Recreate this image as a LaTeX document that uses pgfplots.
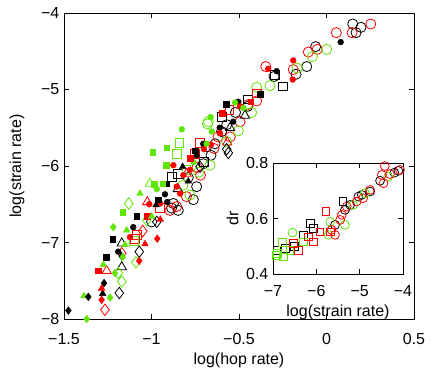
\documentclass[border=0pt]{standalone}
\usepackage{fontspec}
\setmainfont{Liberation Sans}
\usepackage{pgfplots}
\pgfplotsset{compat=1.18}

\definecolor{lgreen}{RGB}{95,230,5}

\pgfplotsset{
  oc/.style={only marks, mark=o, mark size=3.8pt, mark options={draw=#1, fill=none, line width=0.6pt}},
  fc/.style={only marks, mark=*, mark size=2.2pt, mark options={draw=#1, fill=#1, line width=0.3pt}},
  os/.style={only marks, mark=square, mark size=3.3pt, mark options={draw=#1, fill=none, line width=0.6pt}},
  fs/.style={only marks, mark=square*, mark size=2.1pt, mark options={draw=#1, fill=#1, line width=0.3pt}},
  ot/.style={only marks, mark=triangle, mark size=4pt, mark options={draw=#1, fill=none, line width=0.6pt}},
  ft/.style={only marks, mark=triangle*, mark size=2.9pt, mark options={draw=#1, fill=#1, line width=0.3pt}},
  od/.style={only marks, mark=diamond, mark size=4.3pt, mark options={draw=#1, fill=none, line width=0.6pt}},
  fd/.style={only marks, mark=diamond*, mark size=2.9pt, mark options={draw=#1, fill=#1, line width=0.3pt}},
  ml/.style={axis line style={line width=0.7pt}, tick style={line width=0.6pt, black},
    major tick length=3.5pt, tick align=inside,
    every tick label/.append style={font=\fontsize{12}{14}\selectfont},
    label style={font=\fontsize{12}{14}\selectfont}},
}

\begin{document}
\begin{tikzpicture}
\path[use as bounding box] (-48pt,-45.75pt) rectangle (279pt,239.25pt);

\begin{axis}[ml,
  name=main,
  scale only axis,
  width=262.5pt, height=229.5pt,
  at={(0pt,0pt)}, anchor=south west,
  xmin=-1.5, xmax=0.5, ymin=-8, ymax=-4,
  xtick={-1.5,-1,-0.5,0,0.5},
  xticklabels={−1.5,−1,−0.5,0,0.5},
  ytick={-8,-7,-6,-5,-4},
  yticklabels={−8,−7,−6,−5,−4},
  xticklabel style={yshift=-7.5pt},
  xlabel={log(hop rate)},
  ylabel={log(strain rate)},
  xlabel style={at={(axis description cs:0.5,-0.134)}, anchor=center},
  ylabel style={at={(axis description cs:-0.134,0.5)}, anchor=center},
  clip=false,
]
% open circles
\addplot[oc=black] coordinates {
(0.150,-4.144) (0.197,-4.187) (0.169,-4.257) (-0.062,-4.44) (-0.113,-4.70)
(-0.174,-4.80) (-0.30,-4.83) (-0.45,-5.22) (-0.57,-5.46) (-0.637,-5.71)
(-0.685,-5.75) (-0.704,-5.97) (-0.742,-6.27) (-0.761,-6.44) (-0.847,-6.58)
(-0.885,-6.55) (-0.999,-6.73) (-0.875,-6.49) (-0.60,-5.55) (-0.66,-5.86)
(-0.52,-5.30) (-0.79,-6.15)};
\addplot[oc=red] coordinates {
(0.253,-4.144) (0.146,-4.257) (0.056,-4.257) (-0.053,-4.475) (-0.104,-4.51)
(-0.347,-4.70) (-0.19,-4.74) (-0.399,-5.15) (-0.494,-5.42) (-0.643,-5.77)
(-0.894,-6.58) (-0.856,-6.53) (-0.80,-6.40) (-0.72,-6.12) (-0.55,-5.62) (-0.45,-5.20)
(-0.74,-6.02) (-0.62,-5.62)};
\addplot[oc=lgreen] coordinates {
(0.001,-4.475) (-0.081,-4.57) (-0.167,-4.72) (-0.323,-4.95) (-0.399,-4.97)
(-0.428,-5.30) (-0.675,-5.42) (-0.504,-5.54) (-0.57,-5.68) (-0.666,-5.99)
(-0.78,-6.38) (-0.68,-5.45) (-0.82,-6.25) (-0.73,-6.08)};
% open squares
\addplot[os=black] coordinates {
(-0.25,-4.96) (-0.294,-4.81) (-0.599,-5.36) (-0.885,-6.14) (-0.847,-6.10)
(-0.45,-5.13) (-0.70,-5.95)};
\addplot[os=red] coordinates {
(-0.555,-5.27) (-0.723,-5.70) (-0.751,-5.84) (-1.085,-6.90) (-1.094,-6.95)
(-0.40,-5.05) (-0.95,-6.55)};
\addplot[os=lgreen] coordinates {
(-0.841,-5.70) (-0.853,-5.84) (-0.80,-6.05) (-1.10,-6.98)};
% open triangles
\addplot[ot=black] coordinates {
(-0.551,-5.50) (-0.466,-5.34) (-1.170,-7.32) (-1.17,-7.01) (-0.85,-6.30)};
\addplot[ot=red] coordinates {
(-0.567,-5.69) (-1.024,-6.47) (-0.799,-6.10) (-1.256,-7.37)};
\addplot[ot=lgreen] coordinates {
(-1.009,-6.23)};
% open diamonds
\addplot[od=black] coordinates {
(-0.57,-5.78) (-0.561,-5.83) (-0.723,-6.01) (-1.070,-7.12) (-1.184,-7.66) (-0.970,-6.73)};
\addplot[od=red] coordinates {
(-1.266,-7.88) (-1.17,-7.14) (-1.05,-6.85)};
\addplot[od=lgreen] coordinates {
(-1.130,-6.49) (-1.170,-7.51) (-1.089,-7.26) (-1.027,-6.71) (-1.19,-7.40)};
% filled circles
\addplot[fc=black] coordinates {
(0.081,-4.38) (-0.285,-4.76) (-0.504,-5.16) (-0.533,-5.42) (-0.704,-5.71)
(-0.742,-5.86) (-0.923,-6.37) (-0.910,-6.47) (-1.104,-6.80) (-1.19,-7.12) (-0.61,-5.5)};
\addplot[fc=red] coordinates {
(-0.19,-4.62) (-0.333,-4.73) (-0.193,-4.87) (-0.494,-5.22) (-0.609,-5.57)
(-0.875,-5.99) (-0.818,-6.12) (-0.78,-6.05) (-0.856,-6.27) (-0.951,-6.49)
(-1.013,-6.50) (-1.123,-6.93) (-0.837,-6.36) (-0.70,-5.78) (-0.66,-5.72)};
\addplot[fc=lgreen] coordinates {
(-0.827,-5.52) (-0.523,-5.17) (-0.475,-5.24) (-0.662,-5.36) (-0.656,-5.55)
(-0.685,-5.71) (-0.97,-6.30) (-0.76,-5.95)};
% filled squares
\addplot[fs=black] coordinates {
(-0.574,-5.19) (-0.38,-5.06) (-0.917,-6.23) (-0.961,-6.44) (-1.085,-6.66)
(-1.222,-6.96) (-1.26,-7.19) (-0.75,-5.80)};
\addplot[fs=red] coordinates {
(-0.595,-5.31) (-0.433,-5.16) (-1.304,-7.37) (-1.024,-6.66) (-0.78,-5.90)};
\addplot[fs=lgreen] coordinates {
(-0.993,-5.82) (-0.913,-5.76) (-0.917,-5.99) (-0.936,-6.23) (-0.985,-6.24) (-1.165,-6.60)};
% filled triangles
\addplot[ft=black] coordinates {
(-0.822,-6.01) (-0.974,-6.51) (-1.279,-7.67) (-0.79,-6.2)};
\addplot[ft=red] coordinates {
(-1.285,-7.60) (-1.037,-7.02) (-0.95,-6.7)};
\addplot[ft=lgreen] coordinates {
(-1.066,-6.36) (-0.999,-6.66) (-1.386,-7.70) (-1.275,-7.29) (-1.151,-7.03) (-1.142,-6.84)};
% filled diamonds
\addplot[fd=black] coordinates {
(-1.475,-7.89) (-1.361,-7.71) (-1.271,-7.53) (-1.17,-7.18)};
\addplot[fd=red] coordinates {
(-1.285,-7.75) (-1.070,-7.24) (-0.967,-6.95)};
\addplot[fd=lgreen] coordinates {
(-1.37,-8.0) (-1.237,-7.72) (-1.209,-7.40) (-1.218,-6.80) (-1.165,-7.19)};
\end{axis}

\begin{axis}[ml,
  scale only axis,
  width=97.5pt, height=83.25pt,
  at={(156.75pt,33.75pt)}, anchor=south west,
  axis background/.style={fill=white},
  xmin=-7, xmax=-4, ymin=0.4, ymax=0.8,
  xtick={-7,-6,-5,-4},
  xticklabels={−7,−6,−5,−4},
  ytick={0.4,0.6,0.8},
  yticklabels={0.4,0.6,0.8},
  xticklabel style={yshift=-5pt},
  xlabel={log(strain rate)},
  ylabel={dr},
  xlabel style={at={(axis description cs:0.5,-0.342)}, anchor=center},
  ylabel style={at={(axis description cs:-0.31,0.5)}, anchor=center},
  clip=false,
]
\addplot[oc=black, mark size=3.3pt] coordinates {
(-4.108,0.772) (-4.53,0.736) (-4.76,0.697) (-5.03,0.679) (-5.22,0.649)
(-5.34,0.631) (-5.57,0.577) (-4.20,0.765) (-4.95,0.685)};
\addplot[oc=lgreen, mark size=3.3pt] coordinates {
(-4.34,0.751) (-4.88,0.691) (-5.15,0.649) (-5.34,0.577) (-5.68,0.588)
(-5.72,0.541) (-6.55,0.549)};
\addplot[oc=red, mark size=3.3pt] coordinates {
(-4.42,0.789) (-4.07,0.775) (-4.49,0.757) (-4.45,0.727) (-4.76,0.703)
(-4.92,0.673) (-5.07,0.661) (-5.30,0.643) (-5.41,0.613) (-5.45,0.595)
(-5.65,0.559) (-5.57,0.541) (-4.30,0.760)};
\addplot[os=black, mark size=2.9pt] coordinates {
(-5.39,0.661) (-6.13,0.583) (-6.07,0.565) (-6.30,0.541) (-6.72,0.493)
(-6.91,0.486) (-6.50,0.500)};
\addplot[os=lgreen, mark size=2.9pt] coordinates {
(-6.78,0.513) (-6.93,0.468) (-6.76,0.462) (-6.30,0.516) (-6.61,0.486) (-6.90,0.475)};
\addplot[os=red, mark size=2.9pt] coordinates {
(-5.78,0.625) (-5.92,0.552) (-6.19,0.534) (-6.07,0.516) (-6.53,0.511)
(-6.42,0.486) (-5.68,0.552)};
\end{axis}
\end{tikzpicture}
\end{document}
